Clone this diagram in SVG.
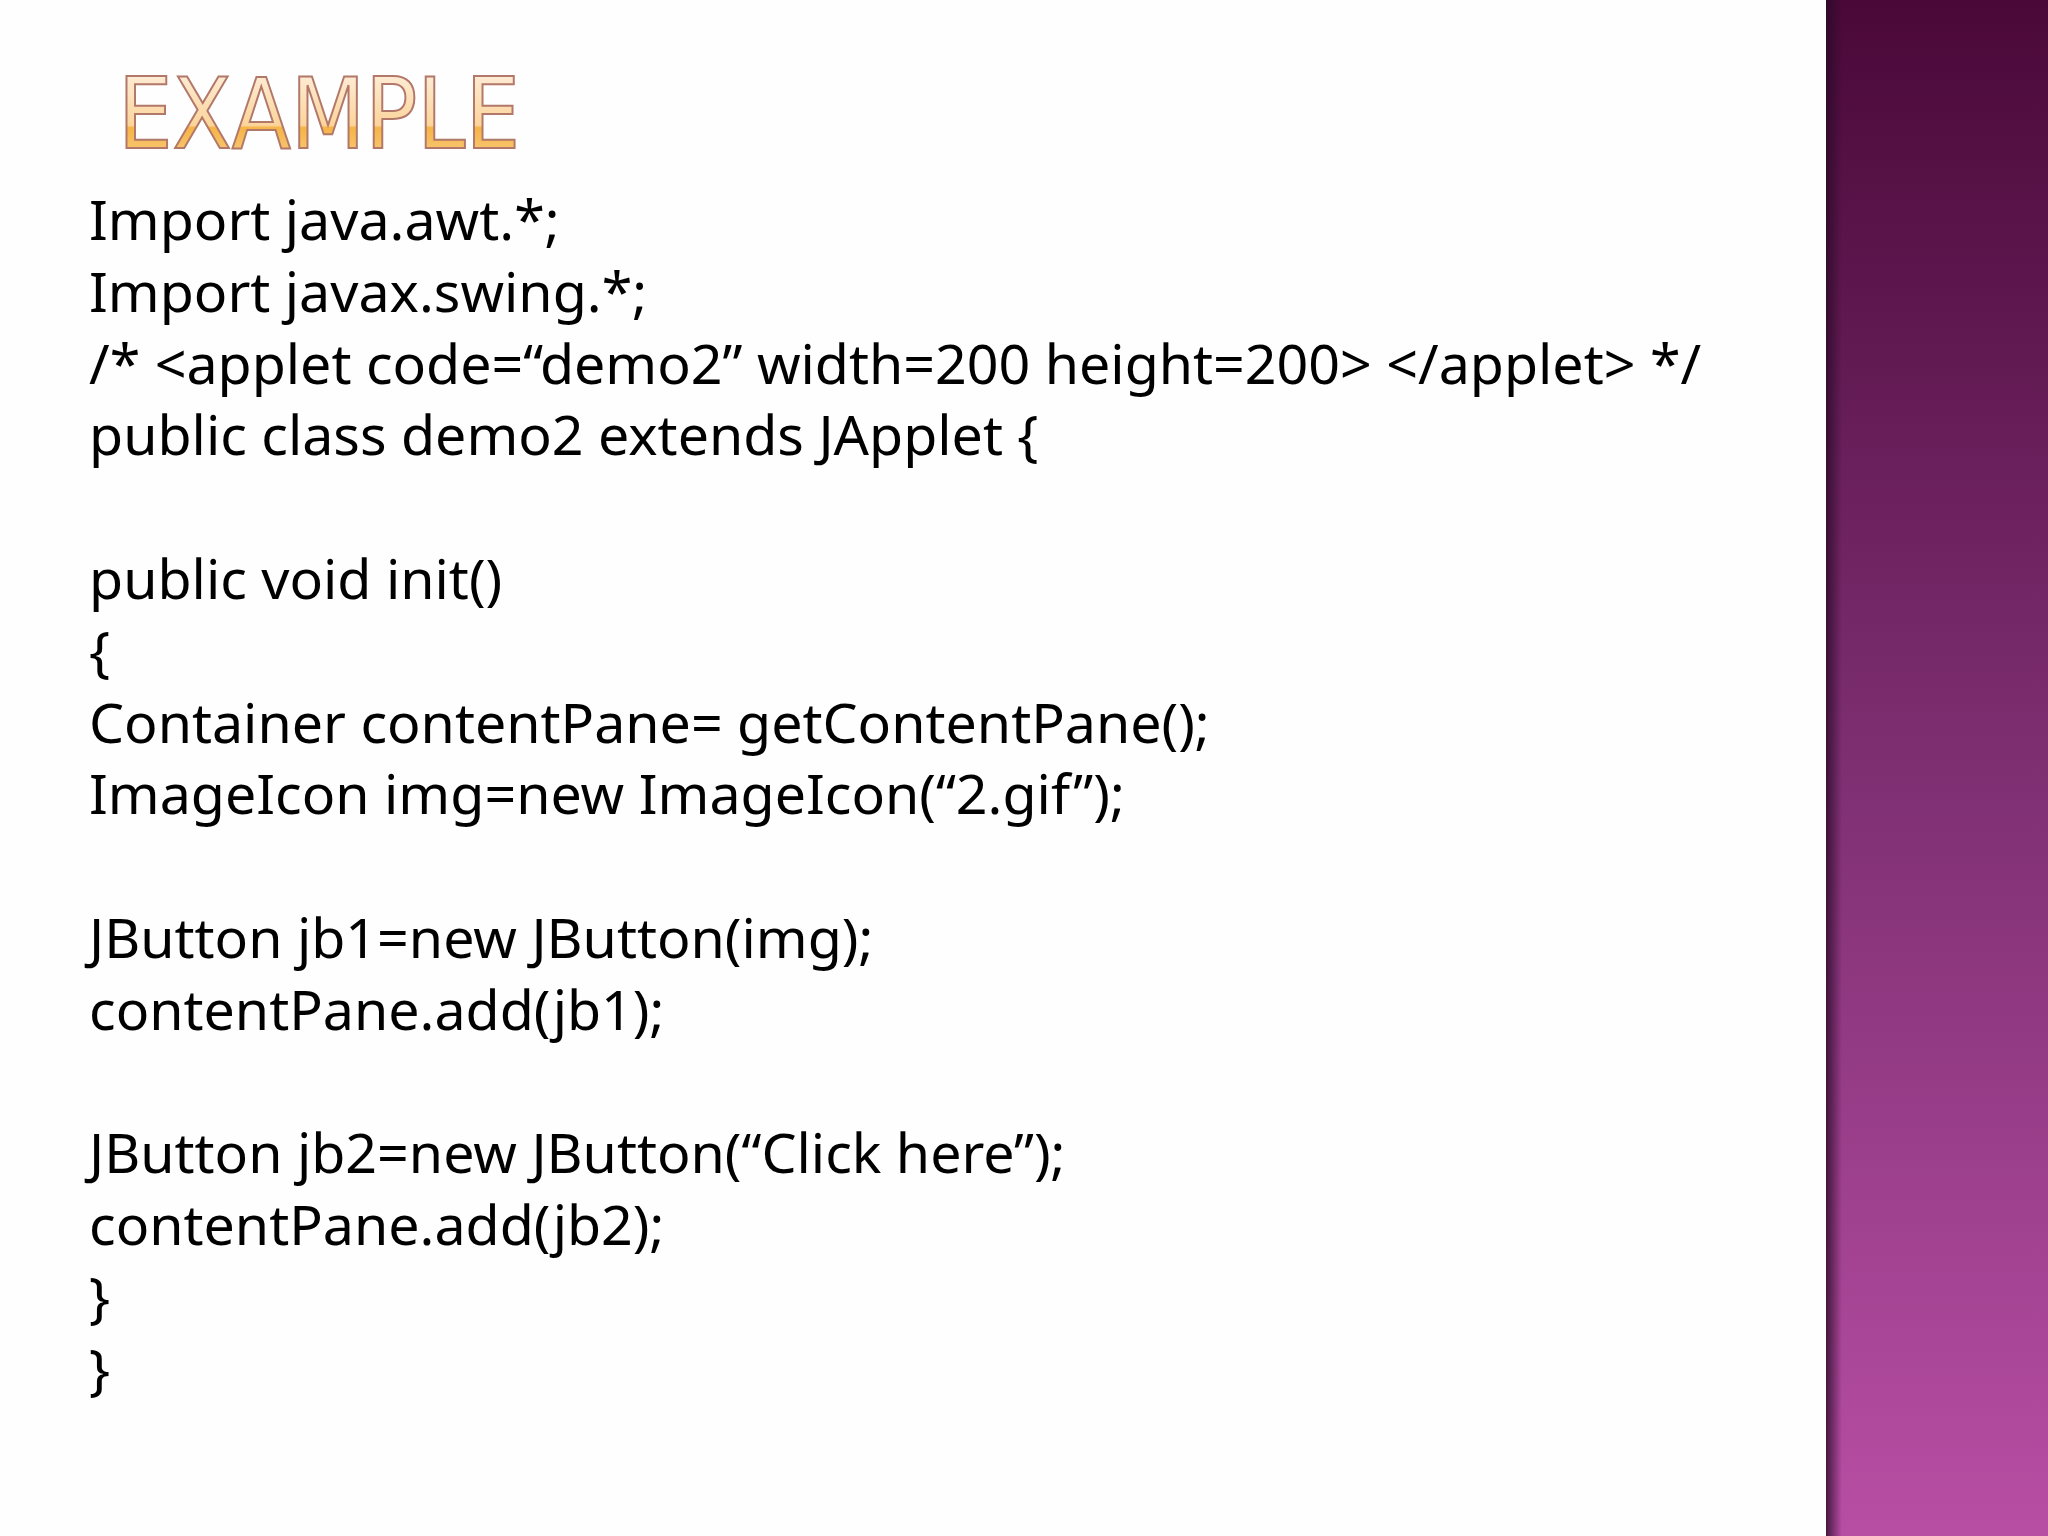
<svg xmlns="http://www.w3.org/2000/svg" width="2048" height="1536" viewBox="0 0 2048 1536">
<defs>
<linearGradient id="band" x1="0" y1="0" x2="0" y2="1">
<stop offset="0" stop-color="#4a0838"/>
<stop offset="0.5" stop-color="#7e2f72"/>
<stop offset="1" stop-color="#b84ea4"/>
</linearGradient>
<linearGradient id="edge" x1="0" y1="0" x2="1" y2="0">
<stop offset="0" stop-color="#2a0a28" stop-opacity="0.8"/>
<stop offset="1" stop-color="#2a0a28" stop-opacity="0"/>
</linearGradient>
<linearGradient id="title" x1="0" y1="0" x2="0" y2="1">
<stop offset="0" stop-color="#fff4ea"/>
<stop offset="0.6" stop-color="#fbd49a"/>
<stop offset="0.62" stop-color="#f5b446"/>
<stop offset="1" stop-color="#fbd494"/>
</linearGradient>
<style>
.code{font-family:"Noto Sans","DejaVu Sans",sans-serif;font-size:55.5px;fill:#000}
</style>
</defs>
<rect width="2048" height="1536" fill="#fefefe"/>
<g id="band-group">
<rect x="1826" y="0" width="222" height="1536" fill="url(#band)"/>
<rect x="1826" y="0" width="16" height="1536" fill="url(#edge)"/>
</g>
<g id="title-node">
<text x="118" y="148" font-family="'Liberation Sans Narrow','DejaVu Sans Condensed',sans-serif" font-size="98" textLength="402" lengthAdjust="spacingAndGlyphs" fill="url(#title)" stroke="#b2786a" stroke-width="2">EXAMPLE</text>
</g>
<g id="code">
<text class="code" x="89" y="240">Import java.awt.*;</text>
<text class="code" x="89" y="312">Import javax.swing.*;</text>
<text class="code" x="89" y="384">/* &lt;applet code=“demo2” width=200 height=200&gt; &lt;/applet&gt; */</text>
<text class="code" x="89" y="455">public class demo2 extends JApplet {</text>
<text class="code" x="89" y="599">public void init()</text>
<text class="code" x="89" y="671">{</text>
<text class="code" x="89" y="743">Container contentPane=  getContentPane();</text>
<text class="code" x="89" y="814">ImageIcon img=new ImageIcon(“2.gif”);</text>
<text class="code" x="89" y="958">JButton jb1=new JButton(img);</text>
<text class="code" x="89" y="1030">contentPane.add(jb1);</text>
<text class="code" x="89" y="1173">JButton jb2=new JButton(“Click here”);</text>
<text class="code" x="89" y="1245">contentPane.add(jb2);</text>
<text class="code" x="89" y="1317">}</text>
<text class="code" x="89" y="1389">}</text>
</g>
</svg>
